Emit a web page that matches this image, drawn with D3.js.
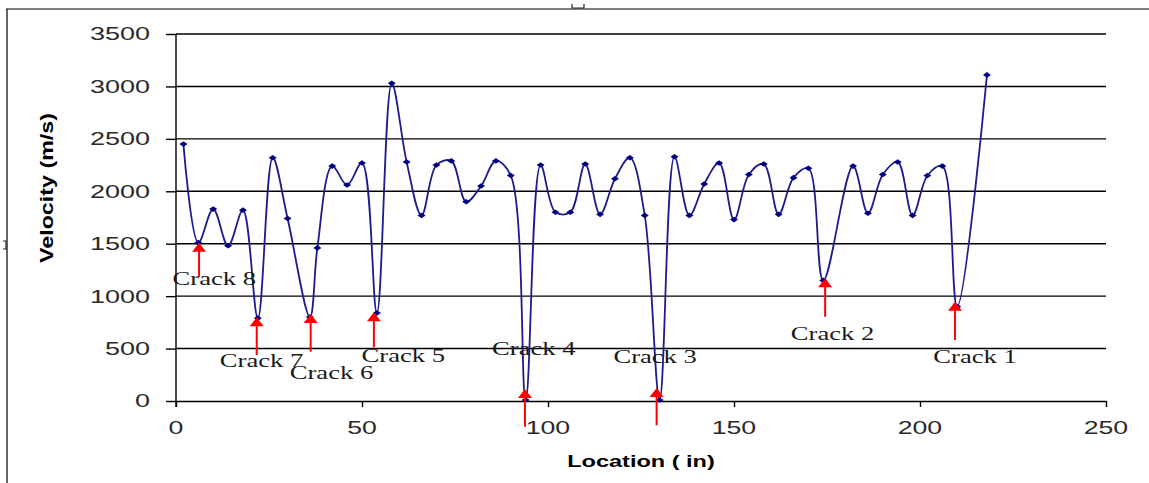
<!DOCTYPE html>
<html>
<head>
<meta charset="utf-8">
<script src="https://cdn.jsdelivr.net/npm/d3@7"></script>
<style>
  body { margin: 0; background: #fff; }
  svg { display: block; }
  .tick-label { font-family: "Liberation Sans", Arial, sans-serif; font-size: 18px; fill: #2a2a2a; }
  .axis-title { font-family: "Liberation Sans", Arial, sans-serif; font-weight: bold; fill: #000; }
  .crack-label { font-family: "Liberation Serif", "Times New Roman", serif; font-size: 19px; fill: #1a1a1a; }
</style>
</head>
<body>
<svg id="chart"></svg>
<script>
// velocity readings along the beam
const locations = [2, 6, 10, 14, 18, 22, 26, 30, 36, 38, 42, 46, 50, 54, 58, 62, 66, 70, 74, 78,
  82, 86, 90, 94, 98, 102, 106, 110, 114, 118, 122, 126, 130, 134, 138, 142, 146, 150, 154, 158,
  162, 166, 170, 174, 182, 186, 190, 194, 198, 202, 206, 210, 218];
const velocities = [2450, 1510, 1830, 1480, 1820, 790, 2320, 1740, 800, 1460, 2240, 2060, 2270, 840, 3030, 2280, 1770, 2250, 2290, 1900,
  2050, 2290, 2150, 10, 2250, 1800, 1800, 2260, 1780, 2120, 2320, 1770, 10, 2330, 1770, 2070, 2270, 1730, 2160, 2260,
  1780, 2130, 2220, 1150, 2240, 1790, 2160, 2280, 1770, 2150, 2240, 900, 3110];

const xTicks = [0, 50, 100, 150, 200, 250];
const yTicks = [0, 500, 1000, 1500, 2000, 2500, 3000, 3500];

// crack annotations (data units)
const crackNames  = ['Crack 8', 'Crack 7', 'Crack 6', 'Crack 5', 'Crack 4', 'Crack 3', 'Crack 2', 'Crack 1'];
const crackAt     = [6.2, 21.7, 36.2, 53.2, 93.8, 129.2, 174.5, 209.4];
const crackTip    = [1510, 798, 830, 846, 115, 125, 1170, 947];
const crackTail   = [1185, 439, 470, 512, -245, -232, 804, 582];
const crackLabelX = [10.3, 23.0, 41.8, 61.1, 96.2, 128.8, 176.5, 214.8];
const crackLabelY = [1173, 391, 270, 434, 502, 429, 648, 429];

const W = 1149, H = 483;
const margin = { top: 34, left: 176, right: 43, bottom: 82 };
const width  = W - margin.left - margin.right;
const height = H - margin.top - margin.bottom;

const svg = d3.select('#chart').attr('width', W).attr('height', H);

// stretch text horizontally like the original (it was a widened image)
function stretch(sel, factor) {
  sel.each(function() {
    const len = this.getComputedTextLength();
    d3.select(this).attr('textLength', len * factor).attr('lengthAdjust', 'spacingAndGlyphs');
  });
}

// outer frame bits
svg.append('line').attr('x1', 6).attr('x2', W).attr('y1', 9).attr('y2', 9)
  .attr('stroke', '#555').attr('stroke-width', 1.5);
svg.append('line').attr('x1', 7).attr('x2', 7).attr('y1', 9).attr('y2', H)
  .attr('stroke', '#333').attr('stroke-width', 1.5);
svg.append('path').attr('d', 'M572,4 V8 H584 V4').attr('fill', 'none').attr('stroke', '#222').attr('stroke-width', 1.2);
svg.append('path').attr('d', 'M3,241 H6 V249 H3').attr('fill', 'none').attr('stroke', '#222').attr('stroke-width', 1.2);

const chart = svg.append('g').attr('transform', `translate(${margin.left},${margin.top})`);

const x = d3.scaleLinear().domain([0, 250]).range([0, width]);
const y = d3.scaleLinear().domain([0, 3500]).range([height, 0]);

// gridlines
chart.selectAll('.grid').data(yTicks.filter(d => d > 0)).join('line')
  .attr('class', 'grid')
  .attr('x1', 0).attr('x2', width)
  .attr('y1', d => y(d)).attr('y2', d => y(d))
  .attr('stroke', '#000').attr('stroke-width', 1.4);

// y axis
const yAxisG = chart.append('g')
  .call(d3.axisLeft(y).tickValues(yTicks).tickSize(10).tickFormat(''));
yAxisG.select('.domain').attr('stroke', '#000').attr('stroke-width', 1.4).attr('d', `M0,${height + 6}V0`);
yAxisG.selectAll('.tick line').attr('stroke', '#000').attr('stroke-width', 1.4);

chart.selectAll('.ylab').data(yTicks).join('text')
  .attr('class', 'tick-label ylab')
  .attr('x', -26).attr('y', d => y(d))
  .attr('dy', '0.36em')
  .attr('text-anchor', 'end')
  .text(d => d)
  .call(stretch, 1.5);

// x axis
const xAxisG = chart.append('g').attr('transform', `translate(0,${height})`)
  .call(d3.axisBottom(x).tickValues(xTicks).tickSize(6).tickSizeOuter(0).tickFormat(''));
xAxisG.select('.domain').attr('stroke', '#000').attr('stroke-width', 1.4);
xAxisG.selectAll('.tick line').attr('stroke', '#000').attr('stroke-width', 1.4);

chart.selectAll('.xlab').data(xTicks).join('text')
  .attr('class', 'tick-label xlab')
  .attr('x', d => x(d)).attr('y', height + 27)
  .attr('dy', '0.36em')
  .attr('text-anchor', 'middle')
  .text(d => d)
  .call(stretch, 1.48);

// axis titles
chart.append('text')
  .attr('class', 'axis-title')
  .attr('x', width / 2).attr('y', height + 60)
  .attr('dy', '0.36em')
  .attr('text-anchor', 'middle')
  .style('font-size', '16px')
  .text('Location ( in)')
  .call(stretch, 1.47);

svg.append('text')
  .attr('class', 'axis-title')
  .attr('transform', 'translate(47,188) rotate(-90)')
  .attr('dy', '0.36em')
  .attr('text-anchor', 'middle')
  .style('font-size', '18px')
  .attr('textLength', 150).attr('lengthAdjust', 'spacingAndGlyphs')
  .text('Velocity (m/s)');

// velocity line
const points = locations.map((d, i) => ({ loc: d, vel: velocities[i] }));

const line = d3.line()
  .x(d => x(d.loc))
  .y(d => y(d.vel))
  .curve(d3.curveCatmullRom.alpha(0.5));

chart.append('path')
  .datum(points)
  .attr('fill', 'none')
  .attr('stroke', '#1c1c8f')
  .attr('stroke-width', 1.8)
  .attr('d', line);

chart.selectAll('.marker').data(points).join('path')
  .attr('class', 'marker')
  .attr('transform', d => `translate(${x(d.loc)},${y(d.vel)})`)
  .attr('d', 'M-4,0 L0,-2.8 L4,0 L0,2.8 Z')
  .attr('fill', '#000080');

// crack arrows + labels
const cracks = crackNames.map((name, i) => ({
  name, at: crackAt[i], tip: crackTip[i], tail: crackTail[i], lx: crackLabelX[i], ly: crackLabelY[i]
}));

chart.selectAll('.crack-shaft').data(cracks).join('line')
  .attr('class', 'crack-shaft')
  .attr('x1', d => x(d.at)).attr('x2', d => x(d.at))
  .attr('y1', d => y(d.tip) + 6).attr('y2', d => y(d.tail))
  .attr('stroke', '#ff0000').attr('stroke-width', 2);

chart.selectAll('.crack-head').data(cracks).join('path')
  .attr('class', 'crack-head')
  .attr('transform', d => `translate(${x(d.at)},${y(d.tip)})`)
  .attr('d', 'M0,0 L7,9 L-7,9 Z')
  .attr('fill', '#ff0000');

chart.selectAll('.crack-label').data(cracks).join('text')
  .attr('class', 'crack-label')
  .attr('x', d => x(d.lx)).attr('y', d => y(d.ly))
  .attr('dy', '0.35em')
  .attr('text-anchor', 'middle')
  .text(d => d.name)
  .call(stretch, 1.4);
</script>
</body>
</html>
